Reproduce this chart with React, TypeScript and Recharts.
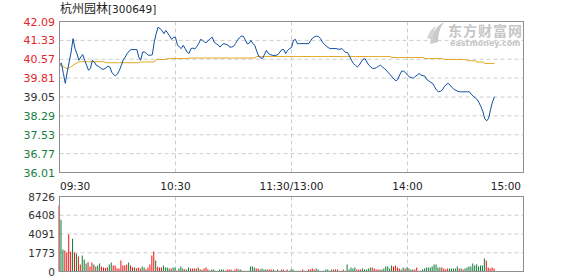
import React from 'react';
import { ComposedChart, Line, Bar, Cell, XAxis, YAxis, CartesianGrid } from 'recharts';

const prevClose = 39.05;
const priceTicks = [36.01, 36.77, 37.53, 38.29, 39.05, 39.81, 40.57, 41.33, 42.09];
const pctLabels = ['7.78%', '5.83%', '3.89%', '1.94%', '0.00%', '1.94%', '3.89%', '5.83%', '7.78%'];
const timeTicks = [0, 60, 120, 180, 240];
const timeLabels = ['09:30', '10:30', '11:30/13:00', '14:00', '15:00'];
const volTicks = [0, 2181.5, 4363, 6544.5, 8726];
const volLabels = ['0', '1773', '4091', '6408', '8726'];

// minute prices, 09:30 onward (snapshot ends ~14:45)
const price = [
  40.33, 40.42, 40.0, 39.6, 40.06, 40.46, 40.86, 41.4, 41.0, 40.8,
  40.53, 40.66, 40.76, 40.53, 40.33, 40.13, 40.2, 40.53, 40.46, 40.33,
  40.29, 40.24, 40.17, 40.17, 40.22, 40.29, 40.26, 40.05, 39.95, 39.9,
  39.98, 40.13, 40.33, 40.55, 40.66, 40.8, 40.9, 40.96, 40.96, 40.96,
  40.96, 40.66, 40.53, 40.86, 40.86, 40.8, 40.73, 40.73, 40.75, 41.26,
  41.6, 41.86, 41.8, 41.73, 41.6, 41.73, 41.62, 41.5, 41.37, 41.46,
  41.45, 41.15, 41.06, 41.0, 41.13, 41.0, 40.86, 40.8, 41.0, 41.02,
  40.98, 41.08, 41.2, 41.37, 41.33, 41.26, 41.24, 41.33, 41.4, 41.46,
  41.26, 41.2, 41.15, 41.06, 41.15, 41.2, 41.17, 41.15, 41.06, 41.06,
  41.09, 41.2, 41.33, 41.43, 41.5, 41.5, 41.37, 41.2, 41.2, 41.33,
  41.2, 41.13, 40.9, 40.7, 40.62, 40.6, 40.76, 40.93, 40.8, 40.76,
  40.73, 40.72, 40.73, 40.76, 40.86, 40.96, 40.96, 40.8, 40.93, 41.0,
  41.04, 41.33, 41.37, 41.2, 41.2, 41.2, 41.2, 41.2, 41.2, 41.2,
  41.33, 41.43, 41.48, 41.5, 41.48, 41.4, 41.26, 41.17, 41.1, 41.04,
  41.0, 41.0, 41.0, 41.0, 40.98, 40.97, 41.0, 40.93, 40.84, 40.84,
  40.7, 40.53, 40.4, 40.33, 40.26, 40.33, 40.46, 40.56, 40.6, 40.46,
  40.33, 40.26, 40.2, 40.2, 40.24, 40.29, 40.33, 40.26, 40.2, 40.13,
  40.03, 39.96, 39.86, 39.77, 39.7, 39.76, 39.95, 40.09, 40.09, 40.03,
  39.93, 39.86, 39.84, 39.8, 39.88, 39.93, 40.0, 39.93, 39.91, 39.89,
  39.75, 39.7, 39.64, 39.6, 39.46, 39.33, 39.26, 39.28, 39.33, 39.46,
  39.55, 39.6, 39.53, 39.44, 39.36, 39.32, 39.28, 39.26, 39.26, 39.26,
  39.26, 39.26, 39.26, 39.16, 39.08, 39.02, 38.95, 38.82, 38.66, 38.46,
  38.17, 38.09, 38.2, 38.56, 38.86, 39.06,
];

const avgPrice = [
  40.33, 40.3, 40.27, 40.23, 40.2, 40.22, 40.27, 40.33, 40.38, 40.42,
  40.47, 40.47, 40.47, 40.47, 40.47, 40.47, 40.47, 40.47, 40.47, 40.47,
  40.47, 40.47, 40.47, 40.47, 40.43, 40.43, 40.43, 40.43, 40.43, 40.43,
  40.43, 40.43, 40.43, 40.43, 40.43, 40.43, 40.43, 40.43, 40.43, 40.43,
  40.43, 40.43, 40.46, 40.46, 40.46, 40.46, 40.46, 40.46, 40.46, 40.46,
  40.56, 40.56, 40.56, 40.56, 40.56, 40.56, 40.6, 40.6, 40.6, 40.6,
  40.6, 40.6, 40.6, 40.6, 40.6, 40.6, 40.6, 40.62, 40.62, 40.62,
  40.62, 40.62, 40.62, 40.62, 40.62, 40.62, 40.62, 40.62, 40.62, 40.62,
  40.62, 40.62, 40.62, 40.62, 40.62, 40.62, 40.62, 40.62, 40.62, 40.62,
  40.62, 40.62, 40.62, 40.62, 40.62, 40.62, 40.62, 40.62, 40.62, 40.62,
  40.62, 40.62, 40.68, 40.68, 40.68, 40.68, 40.68, 40.68, 40.68, 40.68,
  40.68, 40.68, 40.68, 40.68, 40.68, 40.68, 40.68, 40.68, 40.68, 40.68,
  40.68, 40.68, 40.68, 40.68, 40.68, 40.68, 40.68, 40.68, 40.68, 40.68,
  40.68, 40.68, 40.68, 40.68, 40.68, 40.68, 40.68, 40.68, 40.68, 40.68,
  40.68, 40.68, 40.68, 40.68, 40.68, 40.68, 40.68, 40.68, 40.68, 40.68,
  40.68, 40.68, 40.68, 40.68, 40.68, 40.68, 40.68, 40.68, 40.68, 40.68,
  40.68, 40.68, 40.68, 40.68, 40.68, 40.68, 40.68, 40.68, 40.68, 40.68,
  40.68, 40.68, 40.64, 40.64, 40.64, 40.64, 40.64, 40.64, 40.64, 40.64,
  40.64, 40.64, 40.64, 40.64, 40.64, 40.64, 40.64, 40.64, 40.64, 40.6,
  40.6, 40.6, 40.6, 40.6, 40.6, 40.6, 40.6, 40.6, 40.6, 40.56,
  40.56, 40.56, 40.56, 40.56, 40.56, 40.56, 40.56, 40.56, 40.56, 40.56,
  40.56, 40.51, 40.51, 40.51, 40.51, 40.51, 40.46, 40.46, 40.46, 40.46,
  40.4, 40.4, 40.4, 40.4, 40.4, 40.4,
];

const volume = [
  7676, 6010, 2558, 2442, 2210, 4303, 2326, 3800, 2210, 2093,
  1745, 814, 1861, 1396, 930, 1085, 581, 1047, 814, 581,
  698, 930, 581, 465, 420, 500, 814, 1047, 698, 698,
  388, 349, 1279, 698, 698, 814, 1047, 698, 504, 465,
  388, 465, 349, 581, 465, 271, 465, 814, 1861, 2326,
  1279, 540, 465, 465, 698, 465, 465, 349, 349, 465,
  465, 116, 349, 581, 349, 271, 233, 465, 349, 349,
  349, 349, 465, 271, 194, 349, 465, 271, 116, 233,
  233, 78, 78, 233, 233, 233, 78, 233, 233, 233,
  78, 233, 349, 233, 233, 78, 78, 78, 78, 581,
  581, 465, 349, 349, 233, 349, 233, 233, 233, 233,
  233, 233, 78, 233, 78, 233, 233, 78, 233, 78,
  233, 233, 78, 78, 78, 78, 233, 78, 78, 233,
  233, 349, 233, 349, 233, 78, 78, 78, 233, 233,
  78, 233, 233, 233, 233, 78, 78, 233, 78, 814,
  233, 465, 349, 465, 233, 233, 233, 349, 233, 233,
  349, 465, 465, 349, 233, 233, 233, 233, 349, 581,
  581, 349, 698, 581, 698, 465, 349, 233, 465, 349,
  465, 349, 233, 233, 233, 465, 78, 78, 233, 349,
  465, 465, 465, 581, 814, 814, 465, 465, 465, 349,
  233, 349, 349, 349, 349, 349, 581, 349, 349, 233,
  349, 465, 581, 581, 930, 698, 814, 581, 698, 698,
  1512, 1279, 465, 349, 465, 349,
];

// r = up minute, g = down minute
const volSide = (
  'rggrrrrgrg' + 'rrgggrrrgr' + 'ggrrrrggrr' + 'rrrrrrgrrg' + 'rrrggrrrrr' +
  'grrrggggrg' + 'grgggrggrr' + 'rgrgrrrrgg' + 'grggggrrrr' + 'rrrggrrggg' +
  'ggrrggggrr' + 'rgrggrrgrg' + 'gggggrrrrr' + 'rrrggggggg' + 'ggrrrrrrgg' +
  'ggggrrrggg' + 'ggrrrrrggg' + 'gggrrrrggr' + 'gggrrrrggg' + 'ggggggggrr' +
  'rrgggggrgr' + 'gggggggggg' + 'grrrrr'
).split('');

const RED = '#e8222a';
const GREEN = '#16803e';
const GRAY = '#333333';
const FONT = "'DejaVu Sans', 'Noto Sans CJK SC', sans-serif";

const rows = price.map((p, i) => ({ i, price: p, avg: avgPrice[i], vol: volume[i] }));

const tone = (v: number) => (v > prevClose + 0.001 ? RED : v < prevClose - 0.001 ? GREEN : GRAY);

const PriceTick = (props: any) => {
  const v = props.payload.value;
  return (
    <text x={55} y={props.y} dy={4} textAnchor="end" fontSize={11} fill={tone(v)} fontFamily={FONT}>
      {v.toFixed(2)}
    </text>
  );
};

const PctTick = (props: any) => {
  const v = props.payload.value;
  const k = priceTicks.indexOf(v);
  return (
    <text x={527} y={props.y} dy={4} textAnchor="start" fontSize={11} fill={tone(v)} fontFamily={FONT}>
      {pctLabels[k]}
    </text>
  );
};

const TimeTick = (props: any) => {
  const k = timeTicks.indexOf(props.payload.value);
  const last = timeLabels.length - 1;
  const anchor = k === 0 ? 'start' : k === last ? 'end' : 'middle';
  const dx = k === 0 ? 0.5 : k === last ? -2.5 : 0;
  return (
    <text x={props.x + dx} y={189.5} textAnchor={anchor} fontSize={10.5} fill="#222" fontFamily={FONT}>
      {timeLabels[k]}
    </text>
  );
};

const VolTick = (props: any) => {
  const k = volTicks.indexOf(props.payload.value);
  return (
    <text x={55} y={props.y} dy={4} textAnchor="end" fontSize={10.5} fill={GRAY} fontFamily={FONT}>
      {volLabels[k]}
    </text>
  );
};

const frame = (top: number, height: number): React.CSSProperties => ({
  position: 'absolute',
  left: 59,
  top,
  width: 465,
  height,
  border: '1px solid #8f8f8f',
  boxSizing: 'border-box',
  pointerEvents: 'none',
});

export default function App() {
  return (
    <div style={{ position: 'absolute', left: 0, top: 0, width: 578, height: 276, background: '#fff', overflow: 'hidden' }}>
      <div style={{ position: 'absolute', left: 60, top: 0, fontFamily: FONT, color: '#222', lineHeight: '16px', whiteSpace: 'nowrap' }}>
        <span style={{ fontSize: 12 }}>杭州园林</span>
        <span style={{ fontSize: 10.5 }}>[300649]</span>
      </div>

      <div style={{ position: 'absolute', left: 426, top: 20, width: 100, height: 28, color: '#c6c6c6', fontFamily: FONT }}>
        <svg width={20} height={26} style={{ position: 'absolute', left: 0, top: 0 }}>
          <path d="M4 24 C6 14 10 6 18 2 C14 8 12 14 12 22 Z" fill="#c9c9c9" />
          <path d="M1 18 C3 12 6 8 10 6 C8 10 7 14 7 20 Z" fill="#d4d4d4" />
        </svg>
        <div style={{ position: 'absolute', left: 22, top: 3, fontSize: 14, fontWeight: 'bold', fontFamily: "'Noto Sans CJK SC', sans-serif", lineHeight: '14px', whiteSpace: 'nowrap', letterSpacing: 1 }}>
          东方财富网
        </div>
        <div style={{ position: 'absolute', left: 24, top: 20, fontSize: 8, fontWeight: 'bold', lineHeight: '8px', whiteSpace: 'nowrap' }}>
          eastmoney.com
        </div>
      </div>

      <div style={{ position: 'absolute', left: 0, top: 0 }}>
        <ComposedChart width={578} height={200} data={rows} margin={{ top: 21.5, right: 0, bottom: 7.5, left: 0 }}>
          <CartesianGrid yAxisId="l" stroke="#cccccc" strokeDasharray="4 3" />
          <XAxis
            dataKey="i"
            type="number"
            domain={[0, 240]}
            ticks={timeTicks}
            interval={0}
            height={20}
            axisLine={false}
            tickLine={false}
            tick={<TimeTick />}
          />
          <YAxis
            yAxisId="l"
            orientation="left"
            width={59.5}
            domain={[36.01, 42.09]}
            ticks={priceTicks}
            interval={0}
            axisLine={false}
            tickLine={false}
            tick={<PriceTick />}
          />
          <YAxis
            yAxisId="r"
            orientation="right"
            width={54.5}
            domain={[36.01, 42.09]}
            ticks={priceTicks}
            interval={0}
            axisLine={false}
            tickLine={false}
            tick={<PctTick />}
          />
          <Line yAxisId="l" dataKey="avg" stroke="#e3a31c" strokeWidth={1} dot={false} isAnimationActive={false} />
          <Line yAxisId="l" dataKey="price" stroke="#0b4ea2" strokeWidth={1} dot={false} isAnimationActive={false} />
        </ComposedChart>
      </div>
      <div style={frame(21, 152)} />

      <div style={{ position: 'absolute', left: 0, top: 190 }}>
        <ComposedChart width={578} height={86} data={rows} margin={{ top: 6.5, right: 54.5, bottom: 4.5, left: 0 }}>
          <CartesianGrid stroke="#cccccc" strokeDasharray="4 3" />
          <XAxis dataKey="i" type="number" domain={[0, 240]} ticks={timeTicks} interval={0} hide />
          <YAxis
            width={59.5}
            domain={[0, 8726]}
            ticks={volTicks}
            interval={0}
            axisLine={false}
            tickLine={false}
            tick={<VolTick />}
          />
          <Bar dataKey="vol" barSize={1} isAnimationActive={false}>
            {rows.map((_, i) => (
              <Cell key={`v-${i}`} fill={volSide[i] === 'r' ? '#ee1111' : '#0b7a34'} />
            ))}
          </Bar>
        </ComposedChart>
      </div>
      <div style={frame(196, 76)} />
    </div>
  );
}
